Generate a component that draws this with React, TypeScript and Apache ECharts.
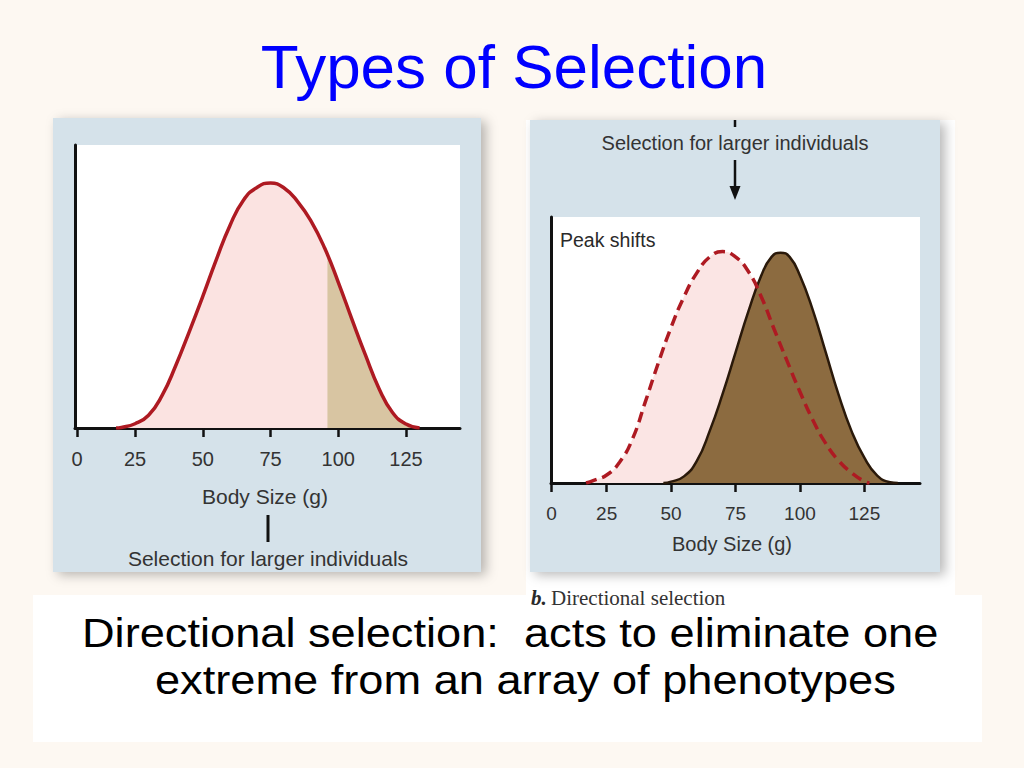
import React, { useEffect, useRef } from "react";
import * as echarts from "echarts";

// ---- data ----
const TICK_VALUES = [3.6, 25, 50, 75, 100, 125];
const TICK_LABELS = ["0", "25", "50", "75", "100", "125"];

// Left panel: single population curve
const LEFT_SIZE = [18, 20, 25, 30, 35, 40, 45, 50, 55, 60, 65, 70, 75, 80, 85, 90, 95, 100, 105, 110, 115, 120, 125, 130];
const LEFT_FREQ = [0, 0.2, 1.5, 4.5, 11.5, 22, 34, 46.5, 59.5, 71.5, 80.5, 85, 86.6, 84.8, 80, 73, 63.5, 51.5, 38.5, 25.8, 14, 5.5, 1.4, 0];
// Selected (larger) tail of the left curve, from 96 g
const TAIL_SIZE = [96, 96, 100, 105, 110, 115, 120, 125, 130];
const TAIL_FREQ = [0, 61.2, 51.5, 38.5, 25.8, 14, 5.5, 1.4, 0];

// Right panel: before (dashed) and after (brown) selection
const BEFORE_SIZE = [17, 20, 25, 30, 35, 40, 45, 50, 55, 60, 65, 70, 75, 80, 85, 90, 95, 100, 105, 110, 115, 120, 125, 127];
const BEFORE_FREQ = [0, 1, 3, 7.8, 16.5, 30.5, 45, 58.5, 70, 79, 85, 87, 85, 79.5, 70, 57.8, 45.9, 34.3, 23.7, 14.9, 8.4, 3.9, 0.6, 0];
const AFTER_SIZE = [47, 50, 55, 60, 65, 70, 75, 80, 85, 89, 92.5, 96, 100, 105, 110, 115, 120, 125, 130, 135, 138];
const AFTER_FREQ = [0, 0.5, 2.5, 8.3, 19.6, 33.5, 49, 64.5, 78, 85, 86.6, 85, 78, 65, 49.2, 33.2, 19.6, 9.5, 2.8, 0.3, 0];

// ---- styles ----
const SANS = "'Liberation Sans', Arial, Helvetica, sans-serif";
const SERIF = "'Liberation Serif', 'Times New Roman', serif";
const RED = "#ae1a22";
const PINK = "#fbe3e1";
const TAN = "#d8c5a2";
const BROWN = "#8c6b40";
const PANEL = "#d5e2ea";
const AXIS = "#111111";
const LABEL = "#333333";

const pairs = (xs: number[], ys: number[]) => xs.map((x, i) => [x, ys[i]]);

const tickLabel = (v: number) => {
  const i = TICK_VALUES.findIndex((t) => Math.abs(t - v) < 0.01);
  return i >= 0 ? TICK_LABELS[i] : "";
};

function makeXAxis(gridIndex: number, min: number, max: number, fontSize: number) {
  return {
    type: "value",
    gridIndex,
    min,
    max,
    z: 3,
    axisLine: { show: true, onZero: false, lineStyle: { color: AXIS, width: 3 } },
    axisTick: { show: true, customValues: TICK_VALUES, length: 9, lineStyle: { color: AXIS, width: 2.5 } },
    axisLabel: {
      show: true,
      customValues: TICK_VALUES,
      formatter: tickLabel,
      color: LABEL,
      fontFamily: SANS,
      fontSize,
      margin: 21,
    },
    splitLine: { show: false },
  };
}

function makeYAxis(gridIndex: number) {
  return {
    type: "value",
    gridIndex,
    min: 0,
    max: 100,
    z: 3,
    axisLine: { show: true, onZero: false, lineStyle: { color: AXIS, width: 3 } },
    axisTick: { show: false },
    axisLabel: { show: false },
    splitLine: { show: false },
  };
}

function text(x: number, y: number, str: string, size: number, opts: any = {}) {
  const align = opts.align || "left";
  return {
    type: "text",
    x,
    y,
    z: 2,
    scaleX: opts.scaleX || 1,
    style: {
      text: str,
      fill: opts.fill || LABEL,
      fontSize: size,
      fontFamily: opts.family || SANS,
      fontWeight: opts.weight || "normal",
      fontStyle: opts.style || "normal",
      align,
      textAlign: align,
      verticalAlign: "middle",
      textVerticalAlign: "middle",
    },
  };
}

function rect(x: number, y: number, w: number, h: number, fill: string, shadow = false) {
  return {
    type: "rect",
    z: 0,
    shape: { x, y, width: w, height: h },
    style: shadow
      ? { fill, shadowBlur: 12, shadowOffsetX: 5, shadowOffsetY: 3, shadowColor: "rgba(0,0,0,0.28)" }
      : { fill },
  };
}

function curve(axis: number, xs: number[], ys: number[], z: number, line: any, area: any) {
  const s: any = {
    type: "line",
    xAxisIndex: axis,
    yAxisIndex: axis,
    data: pairs(xs, ys),
    smooth: true,
    symbol: "none",
    silent: true,
    z,
    lineStyle: line || { width: 0, opacity: 0 },
  };
  if (area) s.areaStyle = area;
  return s;
}

export default function App() {
  const ref = useRef<HTMLDivElement>(null);

  useEffect(() => {
    if (!ref.current) return;
    const chart = echarts.init(ref.current, null, { renderer: "svg" });

    const option: any = {
      animation: false,
      backgroundColor: "#fdf8f2",
      grid: [
        { left: 75, top: 145, width: 385, height: 283, containLabel: false },
        { left: 551, top: 217, width: 369, height: 266, containLabel: false },
      ],
      xAxis: [makeXAxis(0, 2.86, 144.9, 20), makeXAxis(1, 3.4, 146.6, 19)],
      yAxis: [makeYAxis(0), makeYAxis(1)],
      series: [
        curve(0, LEFT_SIZE, LEFT_FREQ, 4, null, { color: PINK, opacity: 1 }),
        curve(0, TAIL_SIZE, TAIL_FREQ, 5, null, { color: TAN, opacity: 1 }),
        curve(0, LEFT_SIZE, LEFT_FREQ, 6, { color: RED, width: 3.5 }, null),
        curve(1, BEFORE_SIZE, BEFORE_FREQ, 4, null, { color: "#fbe5e4", opacity: 1 }),
        curve(1, AFTER_SIZE, AFTER_FREQ, 5, { color: "#2a190a", width: 2.5 }, { color: BROWN, opacity: 1 }),
        curve(1, BEFORE_SIZE, BEFORE_FREQ, 6, { color: RED, width: 3.5, type: [11, 6] }, null),
      ],
      graphic: {
        elements: [
          // left figure
          rect(53, 118, 428, 454, PANEL, true),
          rect(74, 145, 386, 283, "#ffffff"),
          // right figure
          rect(526, 120, 429, 480, "#ffffff"),
          rect(530, 120, 410, 452, PANEL, true),
          rect(551, 217, 369, 266, "#ffffff"),
          // bottom text box
          rect(33, 595, 949, 147, "#ffffff"),

          text(514, 66, "Types of Selection", 62, { align: "center", fill: "#0000ff" }),

          text(265, 496, "Body Size (g)", 21, { align: "center" }),
          {
            type: "line",
            z: 2,
            shape: { x1: 268, y1: 515, x2: 268, y2: 542 },
            style: { stroke: AXIS, lineWidth: 3 },
          },
          text(268, 558, "Selection for larger individuals", 21, { align: "center" }),

          {
            type: "line",
            z: 2,
            shape: { x1: 735, y1: 120, x2: 735, y2: 127 },
            style: { stroke: AXIS, lineWidth: 2.5 },
          },
          text(735, 143, "Selection for larger individuals", 20, { align: "center" }),
          {
            type: "line",
            z: 2,
            shape: { x1: 735, y1: 160, x2: 735, y2: 190 },
            style: { stroke: AXIS, lineWidth: 2.5 },
          },
          {
            type: "polygon",
            z: 2,
            shape: { points: [[729.5, 186], [740.5, 186], [735, 200]] },
            style: { fill: AXIS },
          },
          text(560, 240, "Peak shifts", 19.5, { fill: "#2a2a2a" }),
          text(732, 544, "Body Size (g)", 20, { align: "center" }),

          text(531, 598, "b.", 21, { family: SERIF, weight: "bold", style: "italic", fill: "#2a2a2a" }),
          text(551, 598, "Directional selection", 21, { family: SERIF, fill: "#333333" }),

          text(82, 633, "Directional selection:  acts to eliminate one", 40, { fill: "#000000", scaleX: 1.13 }),
          text(155, 680, "extreme from an array of phenotypes", 40, { fill: "#000000", scaleX: 1.13 }),
        ],
      },
    };

    chart.setOption(option);
    return () => chart.dispose();
  }, []);

  return (
    <div
      ref={ref}
      style={{ position: "absolute", left: 0, top: 0, width: 1024, height: 768 }}
    />
  );
}
